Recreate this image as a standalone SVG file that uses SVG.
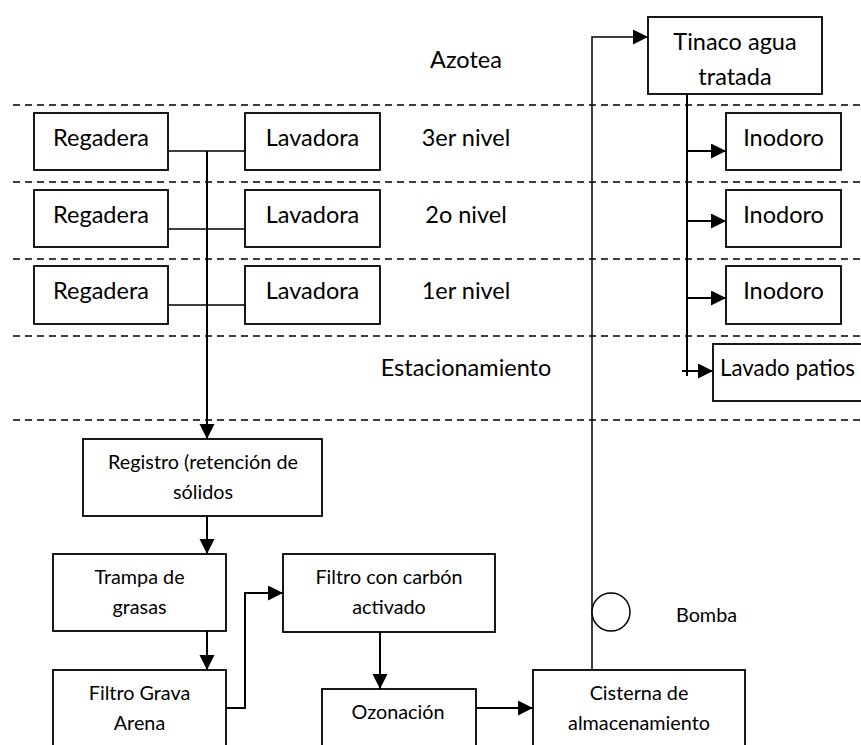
<svg xmlns="http://www.w3.org/2000/svg" width="861" height="745" viewBox="0 0 861 745">
<defs>
<marker id="ah" markerUnits="userSpaceOnUse" markerWidth="16" markerHeight="16" refX="15" refY="7.5" orient="auto">
<path d="M0,0 L15,7.5 L0,15 z" fill="#000"/>
</marker>
<style>
.box{fill:#fff;stroke:#000;stroke-width:1.8}
.dash{stroke:#000;stroke-width:1.4;stroke-dasharray:7,5;fill:none}
.ln{stroke:#000;stroke-width:2;fill:none}
.thin{stroke:#000;stroke-width:1.5;fill:none}
.big{font-family:Lato,"Liberation Sans",sans-serif;font-size:23.5px;fill:#000}
.sm{font-family:Lato,"Liberation Sans",sans-serif;font-size:19.8px;fill:#000}
.c{text-anchor:middle}
</style>
</defs>
<rect width="861" height="745" fill="#fff"/>
<g id="levels">
<line class="dash" x1="13" y1="105" x2="861" y2="105"/>
<line class="dash" x1="13" y1="182" x2="861" y2="182"/>
<line class="dash" x1="13" y1="259" x2="861" y2="259"/>
<line class="dash" x1="13" y1="336" x2="861" y2="336"/>
<line class="dash" x1="13" y1="420" x2="861" y2="420"/>
<text class="big c" x="466" y="68">Azotea</text>
<text class="big c" x="466" y="146">3er nivel</text>
<text class="big c" x="466" y="223">2o nivel</text>
<text class="big c" x="466" y="299">1er nivel</text>
<text class="big c" x="466" y="376">Estacionamiento</text>
</g>
<g id="connectors">
<line class="thin" x1="168" y1="151" x2="245" y2="151"/>
<line class="thin" x1="168" y1="229" x2="245" y2="229"/>
<line class="thin" x1="168" y1="305" x2="245" y2="305"/>
<line class="ln" x1="207" y1="151" x2="207" y2="439" marker-end="url(#ah)"/>
<line class="ln" x1="207" y1="516" x2="207" y2="554" marker-end="url(#ah)"/>
<line class="ln" x1="207" y1="631" x2="207" y2="670" marker-end="url(#ah)"/>
<polyline class="ln" points="226,708 245,708 245,593 283,593" marker-end="url(#ah)"/>
<line class="ln" x1="380" y1="632" x2="380" y2="689" marker-end="url(#ah)"/>
<line class="ln" x1="476" y1="708" x2="533" y2="708" marker-end="url(#ah)"/>
<polyline class="thin" points="592,670 592,37 648,37" marker-end="url(#ah)"/>
<line class="ln" x1="687" y1="94" x2="687" y2="376"/>
<line class="ln" x1="687" y1="151" x2="726" y2="151" marker-end="url(#ah)"/>
<line class="ln" x1="687" y1="221" x2="726" y2="221" marker-end="url(#ah)"/>
<line class="ln" x1="687" y1="298" x2="726" y2="298" marker-end="url(#ah)"/>
<line class="ln" x1="682" y1="371" x2="713" y2="371" marker-end="url(#ah)"/>
</g>
<g id="regadera3"><rect class="box" x="34" y="113" width="134" height="57"/><text class="big c" x="101" y="146">Regadera</text></g>
<g id="lavadora3"><rect class="box" x="245" y="113" width="135" height="57"/><text class="big c" x="312.5" y="146">Lavadora</text></g>
<g id="regadera2"><rect class="box" x="34" y="190" width="134" height="57"/><text class="big c" x="101" y="223">Regadera</text></g>
<g id="lavadora2"><rect class="box" x="245" y="190" width="135" height="57"/><text class="big c" x="312.5" y="223">Lavadora</text></g>
<g id="regadera1"><rect class="box" x="34" y="266" width="134" height="58"/><text class="big c" x="101" y="299">Regadera</text></g>
<g id="lavadora1"><rect class="box" x="245" y="266" width="135" height="58"/><text class="big c" x="312.5" y="299">Lavadora</text></g>
<g id="tinaco"><rect class="box" x="648" y="17" width="174" height="77"/><text class="big c" x="735" y="50">Tinaco agua</text><text class="big c" x="735" y="85">tratada</text></g>
<g id="inodoro3"><rect class="box" x="726" y="113" width="115" height="57"/><text class="big c" x="783.5" y="146">Inodoro</text></g>
<g id="inodoro2"><rect class="box" x="726" y="190" width="115" height="57"/><text class="big c" x="783.5" y="223">Inodoro</text></g>
<g id="inodoro1"><rect class="box" x="726" y="266" width="115" height="58"/><text class="big c" x="783.5" y="299">Inodoro</text></g>
<g id="lavado"><rect class="box" x="713" y="344" width="170" height="57"/><text class="big" x="720" y="376" style="font-size:22.3px">Lavado patios</text></g>
<g id="registro"><rect class="box" x="83" y="439" width="239" height="77"/><text class="sm c" x="203" y="469">Registro (retención de</text><text class="sm c" x="203" y="499">sólidos</text></g>
<g id="trampa"><rect class="box" x="53" y="554" width="173" height="77"/><text class="sm c" x="139.5" y="584">Trampa de</text><text class="sm c" x="139.5" y="614">grasas</text></g>
<g id="filtrograva"><rect class="box" x="53" y="670" width="173" height="90"/><text class="sm c" x="139.5" y="700">Filtro Grava</text><text class="sm c" x="139.5" y="730">Arena</text></g>
<g id="filtrocarbon"><rect class="box" x="283" y="554" width="212" height="78"/><text class="sm c" x="389" y="584">Filtro con carbón</text><text class="sm c" x="389" y="614">activado</text></g>
<g id="ozonacion"><rect class="box" x="322" y="689" width="154" height="70"/><text class="sm c" x="398" y="719">Ozonación</text></g>
<g id="cisterna"><rect class="box" x="533" y="670" width="212" height="90"/><text class="sm c" x="639" y="700">Cisterna de</text><text class="sm c" x="639" y="730">almacenamiento</text></g>
<g id="bomba"><circle cx="611" cy="612" r="19" fill="#fff" stroke="#000" stroke-width="1.5"/><text class="sm" x="676" y="622">Bomba</text></g>
</svg>
